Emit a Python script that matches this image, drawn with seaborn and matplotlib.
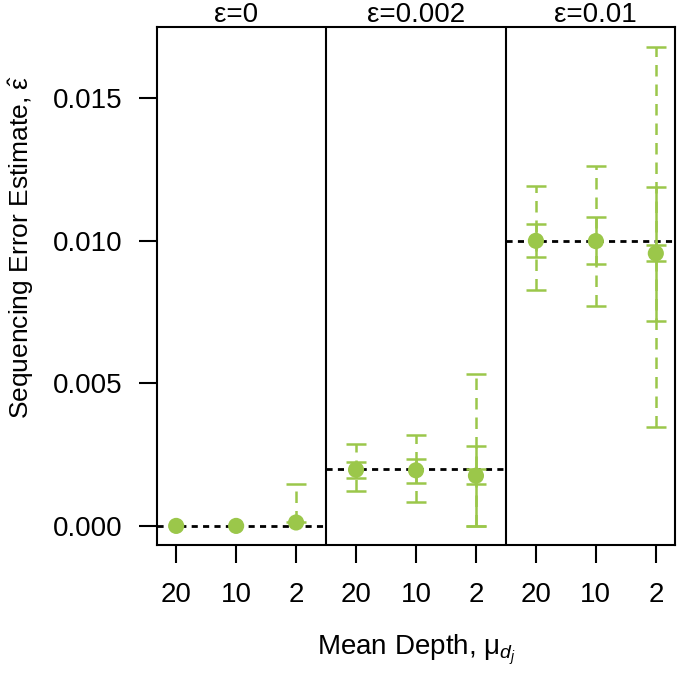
import numpy as np
import pandas as pd
import matplotlib
matplotlib.use("Agg")
import matplotlib.pyplot as plt
import matplotlib.transforms as mtransforms
import seaborn as sns

# ---- data ----
panel_labels = ["ε=0", "ε=0.002", "ε=0.01"]
true_eps = [0.0, 0.002, 0.01]
depth_labels = ["20", "10", "2", "20", "10", "2", "20", "10", "2"]
estimate = [0.0, 0.0, 0.00012, 0.00197, 0.00195, 0.00176, 0.01000, 0.00999, 0.00956]
# solid (middle) intervals; NaN = not drawn
solid_lo = [np.nan, np.nan, np.nan, 0.00169, 0.00152, 0.0, 0.00942, 0.00917, 0.00720]
solid_hi = [np.nan, np.nan, np.nan, 0.00225, 0.00236, 0.00281, 0.01058, 0.01082, 0.01188]
# dashed (outer) intervals
dash_lo = [np.nan, np.nan, 0.00012, 0.00123, 0.00085, 0.0, 0.00826, 0.00770, 0.00348]
dash_hi = [np.nan, np.nan, 0.00148, 0.00288, 0.00320, 0.00534, 0.01191, 0.01261, 0.01680]
# small inner intervals (only visible where they stick out of the dot)
inner_lo = [np.nan, np.nan, np.nan, np.nan, np.nan, 0.00148, np.nan, np.nan, 0.00928]
inner_hi = [np.nan, np.nan, np.nan, np.nan, np.nan, 0.00200, np.nan, np.nan, 0.00984]

sns.set_style("white")
plt.rcParams["font.family"] = ["Liberation Sans", "DejaVu Sans"]
plt.rcParams["mathtext.fontset"] = "custom"
plt.rcParams["mathtext.rm"] = "Liberation Sans"
plt.rcParams["mathtext.it"] = "Liberation Sans:italic"
plt.rcParams["mathtext.sf"] = "Liberation Sans"
plt.rcParams["text.color"] = "black"
plt.rcParams["axes.labelcolor"] = "black"
plt.rcParams["xtick.color"] = "black"
plt.rcParams["ytick.color"] = "black"

green = "#9BC74A"
FS = 20
LW = 1.8
CAP = 7
pos = np.arange(1, len(estimate) + 1)
df = pd.DataFrame({"pos": pos, "est": estimate})

fig = plt.figure(figsize=(6.77, 6.74), dpi=100)
ax = fig.add_axes([157 / 677, 1 - 545 / 674, (675 - 157) / 677, (545 - 27) / 674])

# reference (true value) dotted lines per panel
edges = [0.68, 3.5, 6.5, 9.32]
for i, t in enumerate(true_eps):
    ax.hlines(t, edges[i], edges[i + 1], colors="black", linestyles=(0, (2.2, 1.9)), lw=2.0, zorder=1)


def draw_interval(lo, hi, ls, z):
    lo = np.asarray(lo, float)
    hi = np.asarray(hi, float)
    ok = ~np.isnan(lo)
    mid = (lo + hi) / 2
    eb = ax.errorbar(pos[ok], mid[ok], yerr=[mid[ok] - lo[ok], hi[ok] - mid[ok]],
                     fmt="none", ecolor=green, elinewidth=LW, capsize=CAP, capthick=LW, zorder=z)
    eb[2][0].set_linestyle(ls)


draw_interval(dash_lo, dash_hi, (0, (4.6, 3.2)), 2)
draw_interval(solid_lo, solid_hi, "-", 3)
draw_interval(inner_lo, inner_hi, "-", 3)

sns.scatterplot(data=df, x="pos", y="est", ax=ax, color=green, s=135, edgecolor="none", zorder=4, legend=False)

for x in [3.5, 6.5]:
    ax.axvline(x, color="black", lw=1.5, zorder=1)

ax.set_xlim(0.68, 9.32)
ax.set_ylim(-0.00067, 0.0175)
ax.set_xticks(pos)
ax.set_xticklabels(depth_labels)
ax.set_yticks([0.0, 0.005, 0.010, 0.015])
ax.set_yticklabels(["0.000", "0.005", "0.010", "0.015"])
ax.tick_params(axis="both", direction="out", length=13, width=1.5, labelsize=FS,
               left=True, bottom=True)
ax.tick_params(axis="x", pad=14)
ax.tick_params(axis="y", pad=12)
for s in ax.spines.values():
    s.set_color("black")
    s.set_linewidth(1.5)

ax.set_xlabel(r"Mean Depth, $\mathrm{\mu}_{d_j}$", fontsize=FS)
ax.xaxis.set_label_coords(0.5, -(650 - 545) / 518, transform=ax.transAxes)
ax.xaxis.label.set_va("center")
ax.set_ylabel(r"Sequencing Error Estimate, $\hat{\mathrm{\varepsilon}}$", fontsize=19)
ax.yaxis.set_label_coords(-(157 - 21) / 518, (545 - 247) / 518, transform=ax.transAxes)
ax.yaxis.label.set_va("center")

trans = mtransforms.blended_transform_factory(ax.transData, ax.transAxes)
for xc, lab in zip([2, 5, 8], panel_labels):
    ax.text(xc, 1.0 + 5 / 518, lab, transform=trans, ha="center", va="baseline", fontsize=FS)

fig.savefig("out.png", dpi=100)
